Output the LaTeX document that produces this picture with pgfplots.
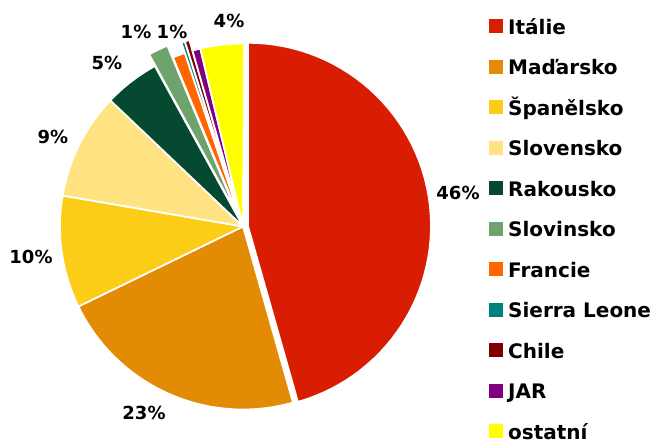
\documentclass[border=0pt]{standalone}
\usepackage{pgfplots}
\pgfplotsset{compat=1.18}
\usepackage{fontspec}
\setmainfont{DejaVu Sans}
\definecolor{cIT}{RGB}{217,29,2}
\definecolor{cHU}{RGB}{228,139,5}
\definecolor{cES}{RGB}{251,205,23}
\definecolor{cSK}{RGB}{255,227,130}
\definecolor{cAT}{RGB}{5,74,48}
\definecolor{cSI}{RGB}{110,163,110}
\definecolor{cFR}{RGB}{255,102,0}
\definecolor{cSL}{RGB}{0,128,128}
\definecolor{cCL}{RGB}{128,0,0}
\definecolor{cZA}{RGB}{128,0,128}
\definecolor{cOT}{RGB}{255,255,0}
\gdef\cum{0}
% #1 share in percent, #2 colour, #3 explosion (px), #4 legend text
\newcommand\slice[4]{%
  \pgfmathsetmacro\sa{\cum*3.6}%
  \pgfmathsetmacro\sb{(\cum+#1)*3.6}%
  \pgfmathsetmacro\ox{243+#3*sin((\sa+\sb)/2)}%
  \pgfmathsetmacro\oy{215.5+#3*cos((\sa+\sb)/2)}%
  \pgfmathsetmacro\newcum{\cum+#1}%
  \xdef\cum{\newcum}%
  \edef\doslice{\noexpand\addplot[fill=#2, draw=white, line width=1.7pt, line join=round, domain=\sa:\sb, samples=60, variable=\noexpand\t] ({\ox+183*sin(\noexpand\t)},{\oy+183*cos(\noexpand\t)}) -- (axis cs:\ox,\oy) -- cycle;}%
  \doslice
  \addlegendentry{#4}%
}
\begin{document}
\begin{tikzpicture}
\begin{axis}[
  scale only axis, width=653pt, height=442pt,
  xmin=0, xmax=653, ymin=0, ymax=442,
  axis line style={draw=none}, ticks=none, clip=false,
  legend style={at={(axis cs:489,423)}, anchor=north west, draw=none, fill=none,
    font=\bfseries\fontsize{20}{23}\selectfont, inner sep=0pt, row sep=21.5pt,
    nodes={inner sep=0pt, text height=14pt, text depth=4pt},
    /tikz/every odd column/.append style={column sep=5pt}},
  legend cell align=left,
  legend image code/.code={\fill[#1, draw=none] (0pt,-4pt) rectangle (14pt,10pt);},
]
\slice{45.6}{cIT}{5}{Itálie}
\slice{22.2}{cHU}{0}{Maďarsko}
\slice{9.9}{cES}{0}{Španělsko}
\slice{9.4}{cSK}{0}{Slovensko}
\slice{4.9}{cAT}{0}{Rakousko}
\slice{1.75}{cSI}{13}{Slovinsko}
\slice{1.1}{cFR}{0}{Francie}
\slice{0.3}{cSL}{11}{Sierra Leone}
\slice{0.4}{cCL}{11}{Chile}
\slice{0.7}{cZA}{0}{JAR}
\slice{3.85}{cOT}{0}{ostatní}
\begin{scope}[every node/.style={font=\bfseries\fontsize{18}{21}\selectfont, inner sep=0pt}]
\node at (axis cs:458,249) {46\%};
\node at (axis cs:144,29) {23\%};
\node at (axis cs:31,185) {10\%};
\node at (axis cs:53,305) {9\%};
\node at (axis cs:107,379) {5\%};
\node at (axis cs:136,410) {1\%};
\node at (axis cs:172,410) {1\%};
\node at (axis cs:229,421) {4\%};
\end{scope}
\end{axis}
\end{tikzpicture}
\end{document}
